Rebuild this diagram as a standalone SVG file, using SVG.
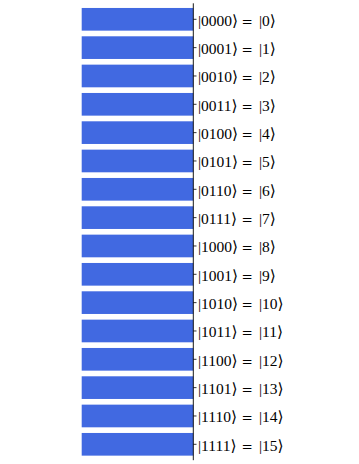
<svg xmlns="http://www.w3.org/2000/svg" width="359" height="464" viewBox="0 0 359 464">
<style>
  .bar { fill: #4169e1; }
  .tick { stroke: #000; stroke-width: 0.8; }
  .axis { stroke: #000; stroke-width: 0.9; }
  .lbl { font-family: "Liberation Serif", "DejaVu Serif", serif; font-size: 15.5px; fill: #000; }
  .eq { font-family: "DejaVu Serif", serif; font-size: 13.5px; }
</style>
<rect width="359" height="464" fill="#fff"/>
<g id="row0" transform="translate(0,19.3)"><rect class="bar" x="81.7" y="-11.33" width="111.6" height="22.67"/><line class="tick" x1="193.3" y1="0" x2="196.5" y2="0"/><text class="lbl" y="6.3"><tspan x="198">|0000⟩</tspan><tspan class="eq" x="241.5">=</tspan><tspan x="259">|0⟩</tspan></text></g>
<g id="row1" transform="translate(0,47.63)"><rect class="bar" x="81.7" y="-11.33" width="111.6" height="22.67"/><line class="tick" x1="193.3" y1="0" x2="196.5" y2="0"/><text class="lbl" y="6.3"><tspan x="198">|0001⟩</tspan><tspan class="eq" x="241.5">=</tspan><tspan x="259">|1⟩</tspan></text></g>
<g id="row2" transform="translate(0,75.97)"><rect class="bar" x="81.7" y="-11.33" width="111.6" height="22.67"/><line class="tick" x1="193.3" y1="0" x2="196.5" y2="0"/><text class="lbl" y="6.3"><tspan x="198">|0010⟩</tspan><tspan class="eq" x="241.5">=</tspan><tspan x="259">|2⟩</tspan></text></g>
<g id="row3" transform="translate(0,104.3)"><rect class="bar" x="81.7" y="-11.33" width="111.6" height="22.67"/><line class="tick" x1="193.3" y1="0" x2="196.5" y2="0"/><text class="lbl" y="6.3"><tspan x="198">|0011⟩</tspan><tspan class="eq" x="241.5">=</tspan><tspan x="259">|3⟩</tspan></text></g>
<g id="row4" transform="translate(0,132.63)"><rect class="bar" x="81.7" y="-11.33" width="111.6" height="22.67"/><line class="tick" x1="193.3" y1="0" x2="196.5" y2="0"/><text class="lbl" y="6.3"><tspan x="198">|0100⟩</tspan><tspan class="eq" x="241.5">=</tspan><tspan x="259">|4⟩</tspan></text></g>
<g id="row5" transform="translate(0,160.97)"><rect class="bar" x="81.7" y="-11.33" width="111.6" height="22.67"/><line class="tick" x1="193.3" y1="0" x2="196.5" y2="0"/><text class="lbl" y="6.3"><tspan x="198">|0101⟩</tspan><tspan class="eq" x="241.5">=</tspan><tspan x="259">|5⟩</tspan></text></g>
<g id="row6" transform="translate(0,189.3)"><rect class="bar" x="81.7" y="-11.33" width="111.6" height="22.67"/><line class="tick" x1="193.3" y1="0" x2="196.5" y2="0"/><text class="lbl" y="6.3"><tspan x="198">|0110⟩</tspan><tspan class="eq" x="241.5">=</tspan><tspan x="259">|6⟩</tspan></text></g>
<g id="row7" transform="translate(0,217.63)"><rect class="bar" x="81.7" y="-11.33" width="111.6" height="22.67"/><line class="tick" x1="193.3" y1="0" x2="196.5" y2="0"/><text class="lbl" y="6.3"><tspan x="198">|0111⟩</tspan><tspan class="eq" x="241.5">=</tspan><tspan x="259">|7⟩</tspan></text></g>
<g id="row8" transform="translate(0,245.97)"><rect class="bar" x="81.7" y="-11.33" width="111.6" height="22.67"/><line class="tick" x1="193.3" y1="0" x2="196.5" y2="0"/><text class="lbl" y="6.3"><tspan x="198">|1000⟩</tspan><tspan class="eq" x="241.5">=</tspan><tspan x="259">|8⟩</tspan></text></g>
<g id="row9" transform="translate(0,274.3)"><rect class="bar" x="81.7" y="-11.33" width="111.6" height="22.67"/><line class="tick" x1="193.3" y1="0" x2="196.5" y2="0"/><text class="lbl" y="6.3"><tspan x="198">|1001⟩</tspan><tspan class="eq" x="241.5">=</tspan><tspan x="259">|9⟩</tspan></text></g>
<g id="row10" transform="translate(0,302.63)"><rect class="bar" x="81.7" y="-11.33" width="111.6" height="22.67"/><line class="tick" x1="193.3" y1="0" x2="196.5" y2="0"/><text class="lbl" y="6.3"><tspan x="198">|1010⟩</tspan><tspan class="eq" x="241.5">=</tspan><tspan x="259">|10⟩</tspan></text></g>
<g id="row11" transform="translate(0,330.97)"><rect class="bar" x="81.7" y="-11.33" width="111.6" height="22.67"/><line class="tick" x1="193.3" y1="0" x2="196.5" y2="0"/><text class="lbl" y="6.3"><tspan x="198">|1011⟩</tspan><tspan class="eq" x="241.5">=</tspan><tspan x="259">|11⟩</tspan></text></g>
<g id="row12" transform="translate(0,359.3)"><rect class="bar" x="81.7" y="-11.33" width="111.6" height="22.67"/><line class="tick" x1="193.3" y1="0" x2="196.5" y2="0"/><text class="lbl" y="6.3"><tspan x="198">|1100⟩</tspan><tspan class="eq" x="241.5">=</tspan><tspan x="259">|12⟩</tspan></text></g>
<g id="row13" transform="translate(0,387.63)"><rect class="bar" x="81.7" y="-11.33" width="111.6" height="22.67"/><line class="tick" x1="193.3" y1="0" x2="196.5" y2="0"/><text class="lbl" y="6.3"><tspan x="198">|1101⟩</tspan><tspan class="eq" x="241.5">=</tspan><tspan x="259">|13⟩</tspan></text></g>
<g id="row14" transform="translate(0,415.97)"><rect class="bar" x="81.7" y="-11.33" width="111.6" height="22.67"/><line class="tick" x1="193.3" y1="0" x2="196.5" y2="0"/><text class="lbl" y="6.3"><tspan x="198">|1110⟩</tspan><tspan class="eq" x="241.5">=</tspan><tspan x="259">|14⟩</tspan></text></g>
<g id="row15" transform="translate(0,444.3)"><rect class="bar" x="81.7" y="-11.33" width="111.6" height="22.67"/><line class="tick" x1="193.3" y1="0" x2="196.5" y2="0"/><text class="lbl" y="6.3"><tspan x="198">|1111⟩</tspan><tspan class="eq" x="241.5">=</tspan><tspan x="259">|15⟩</tspan></text></g>
<g id="connectors"><line class="axis" x1="193.3" y1="3.3" x2="193.3" y2="460.2"/></g>
</svg>
